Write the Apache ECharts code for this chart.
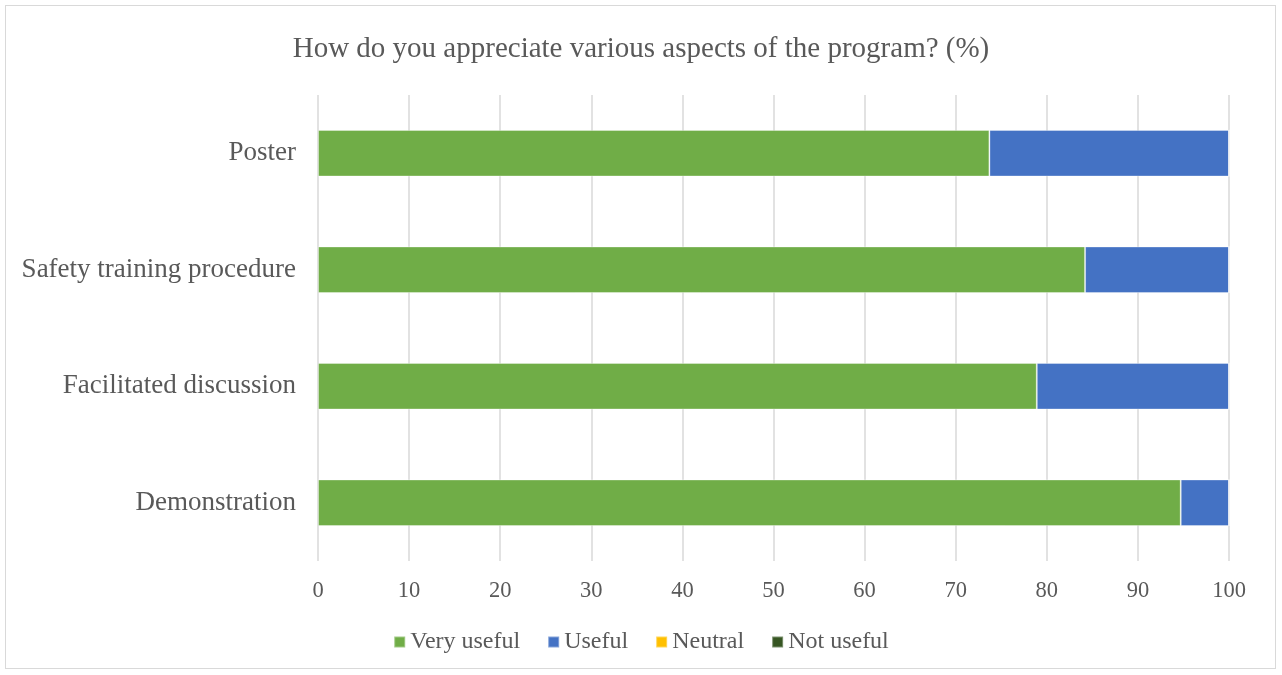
<!DOCTYPE html>
<html><head><meta charset="utf-8">
<script src="https://cdn.jsdelivr.net/npm/echarts@6/dist/echarts.min.js"></script>
<style>
html,body{margin:0;padding:0;background:#fff;}
#frame{position:absolute;left:5px;top:5px;width:1271px;height:664px;border:1.5px solid #d9d9d9;box-sizing:border-box;}
#c{position:absolute;left:0;top:0;width:1282px;height:675px;}
</style></head>
<body><div id="frame"></div><div id="c"></div>
<script>
const categories = ['Demonstration', 'Facilitated discussion', 'Safety training procedure', 'Poster'];
const veryUseful = [94.7, 78.9, 84.2, 73.7];
const useful = [5.3, 21.1, 15.8, 26.3];
const neutral = [0, 0, 0, 0];
const notUseful = [0, 0, 0, 0];
const xTicks = [0, 10, 20, 30, 40, 50, 60, 70, 80, 90, 100];

const font = '"Liberation Serif", "Times New Roman", serif';
const chart = echarts.init(document.getElementById('c'));
function ser(name, data, color){
  return {name, type:'bar', stack:'s', data, barCategoryGap:'60%',
    itemStyle:{color, borderColor:'rgba(255,255,255,0.35)', borderWidth:1}};
}
chart.setOption({
  animation:false,
  title:{text:'How do you appreciate various aspects of the program? (%)', left:'center', top:30,
    textStyle:{fontFamily:font, fontSize:29, fontWeight:'normal', color:'#595959'}},
  legend:{bottom:16, left:'center', itemWidth:11, itemHeight:11, itemGap:27, icon:'rect',
    textStyle:{fontFamily:font, fontSize:24, color:'#595959'},
    data:['Very useful','Useful','Neutral','Not useful']},
  grid:{left:318, right:53, top:95, bottom:114, containLabel:false},
  xAxis:{type:'value', min:0, max:100, interval:10,
    axisLine:{show:false}, axisTick:{show:false},
    splitLine:{lineStyle:{color:'#d9d9d9', width:1.5}},
    axisLabel:{fontFamily:font, fontSize:22.5, color:'#595959', margin:19,
      formatter: v => xTicks.includes(v) ? String(v) : ''}},
  yAxis:{type:'category', data:categories,
    axisLine:{show:false}, axisTick:{show:false},
    axisLabel:{fontFamily:font, fontSize:27, color:'#595959', margin:22}},
  series:[
    ser('Very useful', veryUseful, '#70AD47'),
    ser('Useful', useful, '#4472C4'),
    ser('Neutral', neutral, '#FFC000'),
    ser('Not useful', notUseful, '#375623')
  ]
});
</script></body></html>
